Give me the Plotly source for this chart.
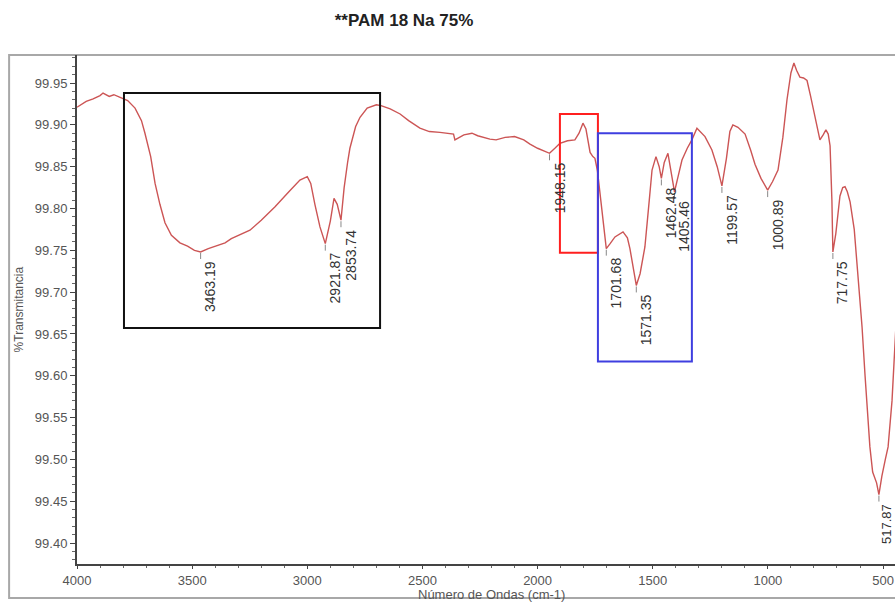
import plotly.graph_objects as go

# ---- data ----
wavenumber = [
    4000, 3960, 3930, 3900, 3887, 3860, 3840, 3813, 3780, 3748, 3720, 3705, 3680, 3661,
    3640, 3618, 3590, 3553, 3520, 3490, 3463.19, 3430, 3400, 3357, 3330, 3300, 3249, 3200,
    3140, 3080, 3032, 3000, 2985, 2967, 2945, 2921.87, 2900, 2884, 2870, 2853.74, 2840, 2825,
    2815, 2790, 2771, 2740, 2700, 2680, 2640, 2597, 2560, 2511, 2470, 2424, 2380, 2365,
    2359, 2345, 2320, 2285, 2260, 2207, 2180, 2141, 2100, 2060, 2033, 2000, 1970, 1948.15,
    1925, 1903, 1870, 1838, 1820, 1803, 1790, 1772, 1760, 1751, 1740, 1729, 1715, 1701.68,
    1685, 1664, 1629, 1610, 1599, 1585, 1571.35, 1555, 1534, 1515, 1503, 1486, 1472, 1462.48,
    1450, 1434, 1420, 1405.46, 1390, 1373, 1350, 1330, 1308, 1290, 1273, 1243, 1220, 1199.57,
    1180, 1165, 1152, 1130, 1099, 1075, 1056, 1030, 1000.89, 980, 956, 935, 917, 900,
    887, 875, 861, 845, 830, 815, 795, 774, 760, 748, 738, 730, 722, 717.75,
    705, 695, 687, 675, 665, 655, 643, 625, 613, 600, 591, 578, 565, 557,
    545, 535, 528, 517.87, 505, 490, 478, 461, 448, 440,
]
transmittance = [
    99.921, 99.928, 99.931, 99.935, 99.938, 99.934, 99.936, 99.933, 99.929, 99.920, 99.905, 99.890, 99.862, 99.830,
    99.805, 99.783, 99.768, 99.759, 99.755, 99.750, 99.748, 99.752, 99.755, 99.759, 99.764, 99.768, 99.774, 99.786,
    99.802, 99.820, 99.834, 99.838, 99.830, 99.805, 99.778, 99.758, 99.785, 99.812, 99.805, 99.786, 99.825, 99.855,
    99.872, 99.898, 99.909, 99.920, 99.924, 99.923, 99.919, 99.913, 99.905, 99.896, 99.892, 99.891, 99.890, 99.889,
    99.882, 99.884, 99.888, 99.890, 99.887, 99.883, 99.882, 99.885, 99.886, 99.882, 99.877, 99.872, 99.868, 99.866,
    99.872, 99.878, 99.881, 99.882, 99.890, 99.902, 99.895, 99.867, 99.862, 99.860, 99.845, 99.818, 99.780, 99.752,
    99.758, 99.766, 99.772, 99.765, 99.752, 99.730, 99.708, 99.722, 99.754, 99.810, 99.846, 99.862, 99.850, 99.836,
    99.855, 99.866, 99.845, 99.820, 99.838, 99.858, 99.872, 99.882, 99.896, 99.891, 99.886, 99.870, 99.850, 99.827,
    99.860, 99.892, 99.900, 99.897, 99.889, 99.870, 99.853, 99.836, 99.822, 99.832, 99.846, 99.885, 99.930, 99.962,
    99.974, 99.965, 99.957, 99.956, 99.953, 99.935, 99.907, 99.882, 99.888, 99.894, 99.889, 99.875, 99.810, 99.748,
    99.770, 99.800, 99.815, 99.825, 99.826, 99.820, 99.808, 99.775, 99.733, 99.690, 99.658, 99.600, 99.548, 99.515,
    99.485, 99.478, 99.472, 99.458, 99.480, 99.500, 99.515, 99.570, 99.630, 99.680,
]
peak_wavenumbers = [3463.19, 2921.87, 2853.74, 1948.15, 1701.68, 1571.35,
                    1462.48, 1405.46, 1199.57, 1000.89, 717.75, 517.87]
peak_labels = ["3463.19", "2921.87", "2853.74", "1948.15", "1701.68", "1571.35",
               "1462.48", "1405.46", "1199.57", "1000.89", "717.75", "517.87"]
x_ticks = [4000, 3500, 3000, 2500, 2000, 1500, 1000, 500]
y_ticks = [99.40, 99.45, 99.50, 99.55, 99.60, 99.65, 99.70, 99.75, 99.80, 99.85, 99.90, 99.95]
# highlight boxes: (x0, x1, y0, y1, colour)
boxes = [
    (3796, 2684, 99.657, 99.938, "#111111"),
    (1903, 1738, 99.747, 99.913, "#ff1f1f"),
    (1738, 1330, 99.617, 99.890, "#3f3fe0"),
]

FONT = "Liberation Sans, Arial, sans-serif"
fig = go.Figure()
fig.add_trace(go.Scatter(x=wavenumber, y=transmittance, mode="lines",
                         line=dict(color="#cc5555", width=1.4), hoverinfo="x+y",
                         showlegend=False))

shapes = []
# outer grey frame
shapes.append(dict(type="rect", xref="paper", yref="paper", x0=-0.083, x1=1.02, y0=-0.067, y1=1.0,
                   line=dict(color="#a8a8a8", width=2), layer="below"))
for x0, x1, y0, y1, c in boxes:
    shapes.append(dict(type="rect", xref="x", yref="y", x0=x0, x1=x1, y0=y0, y1=y1,
                       line=dict(color=c, width=2)))

annotations = []
for i, (wn, lab) in enumerate(zip(peak_wavenumbers, peak_labels)):
    t = transmittance[wavenumber.index(wn)]
    last = i == len(peak_labels) - 1
    shapes.append(dict(type="line", xref="x", yref="y", ysizemode="pixel", yanchor=t,
                       x0=wn, x1=wn, y0=-1, y1=-7, line=dict(color="#888888", width=1)))
    annotations.append(dict(x=wn, y=t, xref="x", yref="y", text=lab, textangle=-90,
                            showarrow=False, xanchor="left", yanchor="top", yshift=-7,
                            xshift=-2 if last else 0,
                            font=dict(family=FONT, size=13 if last else 14, color="#333333")))

annotations.append(dict(xref="paper", yref="paper", x=0.5, y=-0.06, text="Número de Ondas (cm-1)",
                        showarrow=False, xanchor="center", yanchor="middle", xshift=5,
                        font=dict(family=FONT, size=13, color="#555555")))
annotations.append(dict(xref="paper", yref="paper", x=-0.071, y=0.5, text="%Transmitancia",
                        showarrow=False, xanchor="center", yanchor="middle", textangle=-90,
                        font=dict(family=FONT, size=12, color="#555555")))

fig.update_layout(
    width=895, height=602,
    margin=dict(l=77, r=0, t=55, b=38, pad=0),
    paper_bgcolor="white", plot_bgcolor="white",
    title=dict(text="<b>**PAM 18 Na 75%</b>", x=404 / 895, xanchor="center", y=1 - 20 / 602,
               yanchor="middle", font=dict(family=FONT, size=17, color="#222222")),
    shapes=shapes, annotations=annotations,
    xaxis=dict(range=[4000, 448], tickvals=x_ticks, ticks="outside", ticklen=3, tickwidth=1,
               tickcolor="#444444", showline=True, linecolor="#444444", linewidth=2,
               showgrid=False, zeroline=False,
               minor=dict(dtick=100, tick0=0, ticks="outside", ticklen=2, tickcolor="#666666"),
               tickfont=dict(family=FONT, size=13, color="#555555")),
    yaxis=dict(range=[99.375, 99.9835], tickvals=y_ticks, tickformat=".2f", ticks="outside",
               ticklen=5, tickwidth=1, tickcolor="#444444", showline=True, linecolor="#444444",
               linewidth=2, showgrid=False, zeroline=False,
               minor=dict(dtick=0.01, tick0=99.4, ticks="outside", ticklen=3, tickcolor="#666666"),
               tickfont=dict(family=FONT, size=13, color="#555555")),
)
fig.write_html("out.html", config={"displayModeBar": False},
               post_script="document.body.style.margin='0';")
